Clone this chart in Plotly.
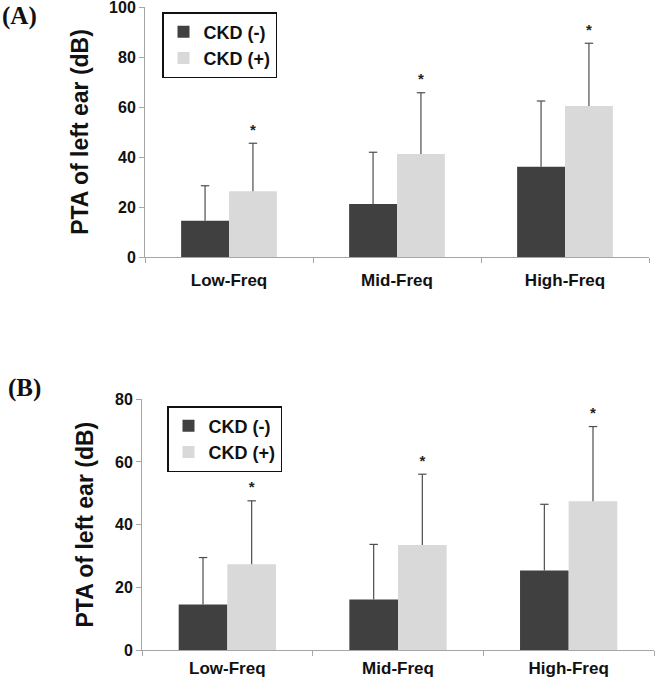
import plotly.graph_objects as go

categories = ["Low-Freq", "Mid-Freq", "High-Freq"]
series_names = ["CKD (-)", "CKD (+)"]

# Panel A
a_neg = [14.5, 21.2, 36.1]
a_neg_sd = [14.0, 20.7, 26.3]
a_pos = [26.3, 41.2, 60.4]
a_pos_sd = [19.2, 24.5, 25.1]

# Panel B
b_neg = [14.5, 16.1, 25.4]
b_neg_sd = [15.0, 17.6, 21.1]
b_pos = [27.4, 33.5, 47.5]
b_pos_sd = [20.2, 22.6, 23.8]

significance = ["*", "*", "*"]

y_ticks_a = [0, 20, 40, 60, 80, 100]
y_ticks_b = [0, 20, 40, 60, 80]

DARK = "#404040"
LIGHT = "#d9d9d9"
AXIS = "#a6a6a6"
ERR = "#4d4d4d"
FONT = "Arial, Liberation Sans, sans-serif"

fig = go.Figure()


def add_panel(neg, neg_sd, pos, pos_sd, xa, ya, legend):
    groups = [("neg", neg, neg_sd, DARK, series_names[0], None),
              ("pos", pos, pos_sd, LIGHT, series_names[1], significance)]
    for og, vals, sds, col, name, marks in groups:
        fig.add_trace(go.Bar(
            x=categories, y=vals, name=name, marker_color=col, marker_line_width=0,
            xaxis=xa, yaxis=ya, legend=legend, offsetgroup=og,
            error_y=dict(type="data", array=sds, symmetric=False,
                         arrayminus=[0] * len(vals), color=ERR, thickness=1.2, width=0)))
        tops = [v + s for v, s in zip(vals, sds)]
        fig.add_trace(go.Scatter(
            x=categories, y=tops, xaxis=xa, yaxis=ya, offsetgroup=og,
            mode="markers+text" if marks else "markers",
            text=marks, textposition="top center",
            textfont=dict(family=FONT, size=15, color="#222", weight="bold"),
            marker=dict(symbol="line-ew", size=6, color=ERR,
                        line=dict(width=1.2, color=ERR)),
            showlegend=False, hoverinfo="skip", cliponaxis=False))


add_panel(a_neg, a_neg_sd, a_pos, a_pos_sd, "x", "y", "legend")
add_panel(b_neg, b_neg_sd, b_pos, b_pos_sd, "x2", "y2", "legend2")

W, H = 655, 679
xtickfont = dict(family=FONT, size=17, color="#111", weight="bold")
ytickfont = dict(family=FONT, size=16, color="#111", weight="bold")
titlefont = dict(family=FONT, size=23, color="#111", weight="bold")

xcommon = dict(type="category", showline=True, linecolor=AXIS, linewidth=1,
               ticks="outside", tickson="boundaries", ticklen=5, tickcolor=AXIS,
               tickfont=xtickfont, showgrid=False, zeroline=False, automargin=False,
               ticklabeloverflow="allow")
ycommon = dict(showline=True, linecolor=AXIS, linewidth=1, ticks="outside",
               ticklen=5, tickcolor=AXIS, tickfont=ytickfont, showgrid=False,
               zeroline=False, automargin=False, ticklabeloverflow="allow",
               title=dict(text="PTA of left ear (dB)", font=titlefont, standoff=14))

legend_common = dict(xanchor="left", yanchor="top", bordercolor="#111", borderwidth=1.5,
                     bgcolor="white", itemwidth=30,
                     font=dict(family=FONT, size=18, color="#111", weight="bold"))

fig.update_layout(
    width=W, height=H,
    margin=dict(l=0, r=0, t=0, b=0, autoexpand=False),
    paper_bgcolor="white", plot_bgcolor="white",
    barmode="group", bargap=0.43, bargroupgap=0,
    scattermode="group", scattergap=0.43,
    xaxis=dict(domain=[145 / W, 649 / W], anchor="y", ticklabelstandoff=8, **xcommon),
    yaxis=dict(domain=[1 - 257 / H, 1 - 7 / H], anchor="x", range=[0, 100],
               tickvals=y_ticks_a, **ycommon),
    xaxis2=dict(domain=[142 / W, 654 / W], anchor="y2", ticklabelstandoff=3, **xcommon),
    yaxis2=dict(domain=[1 - 650 / H, 1 - 399.3 / H], anchor="x2", range=[0, 80],
                tickvals=y_ticks_b, **ycommon),
    legend=dict(x=162 / W, y=1 - 12 / H, **legend_common),
    legend2=dict(x=167 / W, y=1 - 406 / H, **legend_common),
)

fig.add_annotation(x=0, y=1, xref="paper", yref="paper", xanchor="left",
                   yanchor="top", showarrow=False, text="<b>(A)</b>",
                   font=dict(family="Liberation Serif, Times New Roman, serif", size=25,
                             color="#111"))
fig.add_annotation(x=6 / W, y=1 - 372 / H, xref="paper", yref="paper", xanchor="left",
                   yanchor="top", showarrow=False, text="<b>(B)</b>",
                   font=dict(family="Liberation Serif, Times New Roman, serif", size=25,
                             color="#111"))

fig.write_html("out.html", config={"displayModeBar": False},
               post_script="document.body.style.margin='0';document.body.style.overflow='hidden';")
